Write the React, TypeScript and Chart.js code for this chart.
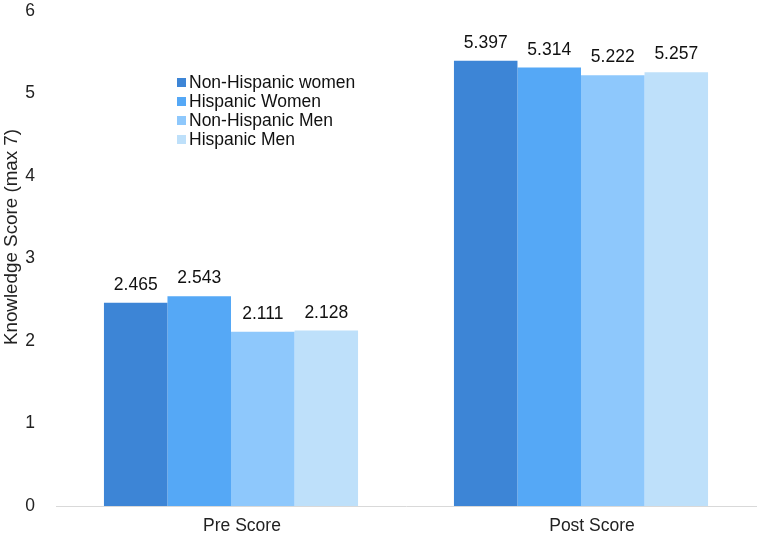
import React, { useEffect, useRef } from "react";
import { Chart, registerables } from "chart.js";

Chart.register(...registerables);

const categories = ["Pre Score", "Post Score"];
const seriesNames = ["Non-Hispanic women", "Hispanic Women", "Non-Hispanic Men", "Hispanic Men"];
const nonHispanicWomen = [2.465, 5.397];
const hispanicWomen = [2.543, 5.314];
const nonHispanicMen = [2.111, 5.222];
const hispanicMen = [2.128, 5.257];
const colors = ["#3d85d6", "#55a8f6", "#8ec8fc", "#bee0fa"];
const yTicks = [0, 1, 2, 3, 4, 5, 6];
const yTitle = "Knowledge Score (max 7)";

const FONT = "'Liberation Sans', Arial, Helvetica, sans-serif";

const valueLabels = {
  id: "valueLabels",
  afterDatasetsDraw(chart: any) {
    const ctx = chart.ctx;
    ctx.save();
    ctx.font = `17.5px ${FONT}`;
    ctx.fillStyle = "#111";
    ctx.textAlign = "center";
    ctx.textBaseline = "bottom";
    chart.data.datasets.forEach((ds: any, i: number) => {
      const meta = chart.getDatasetMeta(i);
      meta.data.forEach((bar: any, j: number) => {
        ctx.fillText(ds.data[j].toFixed(3), bar.x, bar.y - 9);
      });
    });
    ctx.restore();
  },
};

const extras = {
  id: "extras",
  afterDraw(chart: any) {
    const ctx = chart.ctx;
    ctx.save();
    // legend
    ctx.font = `17.5px ${FONT}`;
    ctx.textBaseline = "middle";
    const x0 = 177;
    const y0 = 82;
    chart.data.datasets.forEach((ds: any, i: number) => {
      const y = y0 + i * 19;
      ctx.fillStyle = ds.backgroundColor;
      ctx.fillRect(x0, y - 4, 9, 9);
      ctx.fillStyle = "#111";
      ctx.fillText(ds.label, x0 + 12, y + 1);
    });
    // y title
    ctx.translate(12, 237);
    ctx.rotate(-Math.PI / 2);
    ctx.font = `18.8px ${FONT}`;
    ctx.textAlign = "center";
    ctx.textBaseline = "middle";
    ctx.fillStyle = "#222";
    ctx.fillText(yTitle, 0, 0);
    ctx.restore();
  },
};

export default function App() {
  const ref = useRef<HTMLCanvasElement>(null);
  useEffect(() => {
    const values = [nonHispanicWomen, hispanicWomen, nonHispanicMen, hispanicMen];
    const chart = new Chart(ref.current!, {
      type: "bar",
      data: {
        labels: categories,
        datasets: seriesNames.map((name, i) => ({
          label: name,
          data: values[i],
          backgroundColor: colors[i],
          borderWidth: 0,
          barPercentage: 1,
          categoryPercentage: 0.726,
        })),
      },
      options: {
        animation: false,
        responsive: false,
        maintainAspectRatio: false,
        layout: { padding: { top: 11, right: 2, left: 0, bottom: 0 } },
        plugins: { legend: { display: false }, tooltip: { enabled: false } },
        scales: {
          x: {
            grid: { display: false },
            border: { display: true, color: "#d9d9d9", width: 1 },
            ticks: { color: "#222", font: { family: FONT, size: 17.5 }, padding: 2, labelOffset: 11 },
            afterFit: (s: any) => { s.height = 29; s.paddingLeft = 0; s.paddingRight = 0; },
          },
          y: {
            min: 0,
            max: 6,
            afterBuildTicks: (s: any) => { s.ticks = yTicks.map((v) => ({ value: v })); },
            grid: { display: false },
            border: { display: false },
            ticks: { color: "#222", font: { family: FONT, size: 17.5 }, padding: 13 },
            afterFit: (s: any) => { s.width = 56; s.paddingTop = 0; s.paddingBottom = 0; },
          },
        },
      },
      plugins: [valueLabels, extras],
    });
    return () => chart.destroy();
  }, []);
  return (
    <div style={{ position: "fixed", left: 0, top: 0, width: 758, height: 535, background: "#fff" }}>
      <canvas ref={ref} width={758} height={535} style={{ width: 758, height: 535 }} />
    </div>
  );
}
